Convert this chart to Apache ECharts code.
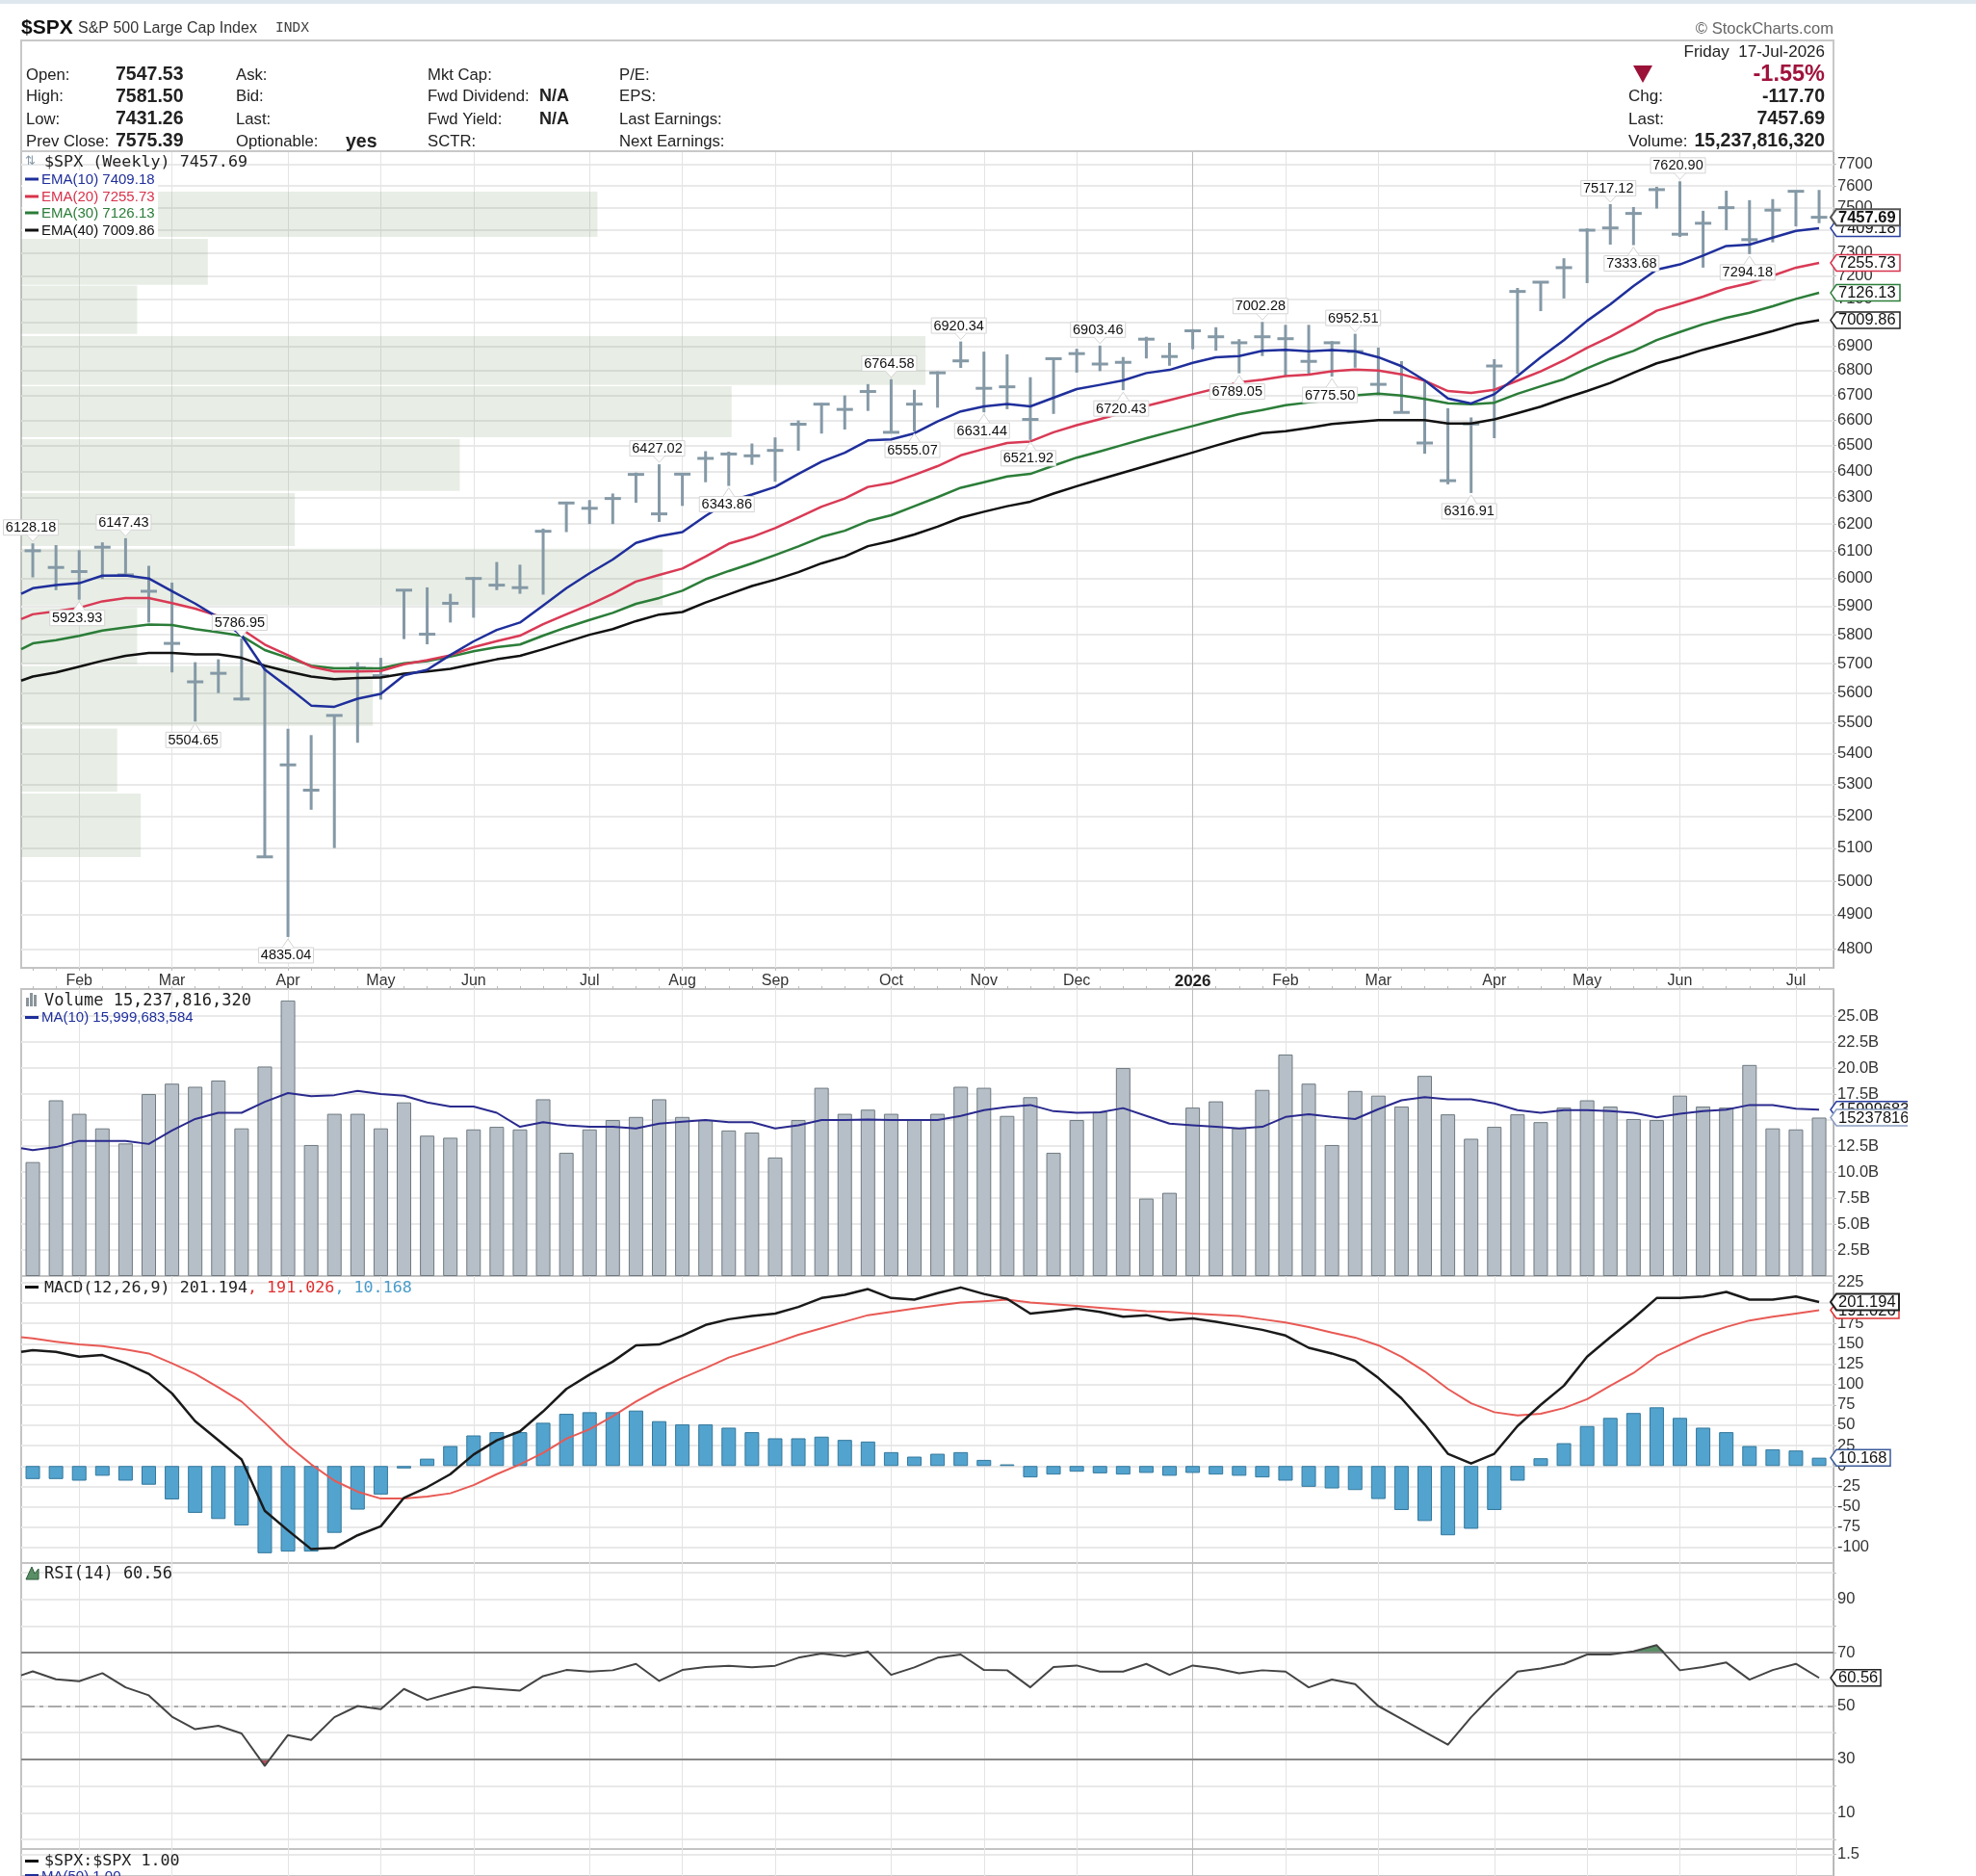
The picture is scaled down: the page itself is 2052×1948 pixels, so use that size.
<!DOCTYPE html>
<html><head><meta charset="utf-8"><style>html,body{margin:0;padding:0;background:#fff}#c{width:2052px;height:1948px}</style>
<script src="https://cdn.jsdelivr.net/npm/echarts@6/dist/echarts.min.js"></script></head><body><div id="c"></div>
<script>
const monthIdx=[2,6,11,15,19,24,28,32,37,41,45,50,54,58,63,67,71,76];
const monthNames=['Feb','Mar','Apr','May','Jun','Jul','Aug','Sep','Oct','Nov','Dec','2026','Feb','Mar','Apr','May','Jun','Jul'];
const priceTicks=[7700,7600,7500,7400,7300,7200,7100,7000,6900,6800,6700,6600,6500,6400,6300,6200,6100,6000,5900,5800,5700,5600,5500,5400,5300,5200,5100,5000,4900,4800];
const highs=[6128.18,6122,6103,6132,6147.43,6046,5985,5705,5715,5786.95,5691,5481,5460,5525,5705,5720,5960,5968,5945,6005,6060,6050,6183,6284,6290,6315,6395,6427.02,6390,6478,6476,6508,6532,6599,6668,6699,6745,6764.58,6722,6797,6920.34,6878,6867,6773,6850,6890,6903.46,6856,6940,6915,6972,6980,6930,7002.28,6990,6990,6922,6952.51,6895,6839,6756,6648,6611,6847,7147,7172,7276,7408,7517.12,7504,7596,7620.90,7487,7578,7535,7540,7579,7581.50];
const lows=[6004,5958,5923.93,5998,6013,5843,5670,5504.65,5600,5575,5074,4835.04,5220,5101,5435,5578,5785,5767,5843,5860,5958,5945,5942,6170,6200,6200,6280,6208,6268,6358,6343.86,6425,6360,6480,6547,6563,6637,6550,6555.07,6650,6811,6631.44,6644,6521.92,6625,6792,6798,6720.43,6850,6820,6888,6882,6789.05,6860,6778,6782,6775.50,6812,6700,6631,6468,6350,6316.91,6529,6787,7048,7102,7168,7336,7333.68,7497,7370,7235,7400,7294.18,7346,7417,7431.26];
const closes=[6101,6040,6025,6114,6013,5954,5770,5638,5667,5580,5074,5363,5282,5525,5686,5659,5958,5802,5911,6000,5976,5967,6173,6279,6259,6296,6388,6238,6389,6450,6467,6460,6481,6584,6664,6643,6715,6552,6664,6791,6840,6728,6734,6603,6849,6870,6827,6834,6930,6858,6965,6940,6915,6940,6932,6838,6915,6879,6744,6631,6510,6364,6585,6819,7132,7172,7235,7400,7410,7475,7583,7382,7431,7501,7358,7490,7575.39,7457.69];
const ema10Start=5945,ema20Start=5855,ema30Start=5750,ema40Start=5642;
const ema10=[5965,5976,5983,6010,6011,6000,5954,5910,5860,5798,5680,5620,5558,5554,5581,5597,5660,5679,5730,5777,5817,5843,5903,5965,6019,6069,6130,6155,6170,6230,6286,6311,6340,6390,6437,6472,6520,6524,6548,6595,6635,6655,6665,6655,6690,6725,6742,6760,6790,6803,6832,6855,6860,6882,6886,6880,6885,6880,6855,6818,6760,6687,6667,6704,6778,6855,6926,7007,7077,7155,7226,7249,7288,7330,7336,7367,7397,7409.18];
const ema20=[5872,5883,5895,5918,5930,5930,5912,5892,5866,5820,5766,5729,5690,5673,5673,5675,5698,5712,5729,5757,5778,5797,5837,5872,5906,5945,5989,6013,6036,6080,6127,6152,6185,6224,6265,6296,6340,6355,6386,6420,6462,6487,6510,6516,6552,6580,6604,6630,6657,6680,6704,6727,6752,6763,6778,6784,6797,6804,6800,6785,6759,6717,6709,6722,6759,6797,6842,6894,6940,6993,7050,7079,7110,7145,7168,7200,7235,7255.73];
const ema30=[5770,5781,5796,5815,5826,5836,5834,5820,5809,5796,5747,5720,5693,5684,5684,5684,5701,5709,5724,5743,5757,5766,5797,5826,5852,5877,5909,5930,5956,5997,6027,6055,6085,6117,6152,6175,6211,6233,6267,6301,6337,6358,6380,6390,6422,6453,6477,6503,6529,6553,6577,6601,6624,6641,6660,6671,6680,6700,6706,6699,6685,6668,6664,6670,6706,6736,6765,6810,6849,6881,6926,6960,6993,7020,7041,7069,7100,7126.13];
const ema40=[5656,5670,5690,5710,5727,5737,5737,5732,5732,5720,5693,5673,5656,5647,5651,5653,5666,5673,5682,5699,5715,5727,5750,5775,5800,5820,5848,5871,5880,5914,5943,5973,5996,6023,6055,6080,6118,6137,6161,6190,6224,6246,6267,6284,6315,6343,6369,6395,6421,6447,6473,6500,6526,6549,6556,6570,6585,6593,6600,6600,6600,6587,6587,6603,6628,6654,6687,6717,6750,6791,6830,6856,6886,6912,6938,6964,6993,7009.86];
const vbpLow=[7370,7161,6952,6741,6533,6325,6118,5903,5699,5490,5277,5073];
const vbpHigh=[7574,7362,7157,6943,6737,6525,6317,6109,5895,5692,5482,5271];
const vbpShare=[31.8,10.3,6.4,49.9,39.2,24.2,15.1,35.4,6.4,19.4,5.3,6.6];
const peakIdx=[0,4,9,27,37,40,46,53,57,68,71];
const troughIdx=[2,7,11,30,38,41,43,47,52,56,62,69,74];
const volume=[10.96,16.9,15.6,14.2,12.75,17.5,18.5,18.2,18.8,14.2,20.15,26.5,12.6,15.6,15.6,14.2,16.7,13.5,13.3,14.1,14.35,14.1,17.0,11.85,14.1,15.0,15.3,17.0,15.3,15.0,14.0,13.8,11.4,15.0,18.1,15.6,16.0,15.6,15.1,15.6,18.2,18.1,15.4,17.2,11.85,15.0,15.8,20.0,7.45,8.0,16.2,16.8,14.2,17.9,21.3,18.5,12.6,17.8,17.35,16.3,19.25,15.55,13.2,14.35,15.55,14.8,16.2,16.9,16.3,15.1,15.0,17.35,16.3,16.2,20.3,14.2,14.1,15.238];
const volMaStart=12.3;
const volMa=[12.1,12.4,13.0,13.0,13.0,12.7,14.0,15.1,15.7,15.7,16.75,17.6,17.3,17.4,17.8,17.5,17.35,16.7,16.3,16.3,15.7,14.35,14.8,14.5,14.35,14.35,14.2,14.65,14.85,15.0,14.8,14.8,14.2,14.5,15.0,15.0,15.05,15.0,15.0,15.0,15.4,15.95,16.25,16.45,15.85,15.7,15.75,16.15,15.4,14.65,14.5,14.35,14.2,14.35,15.3,15.55,15.3,15.1,16.05,16.9,17.2,17.0,17.0,16.6,15.95,15.7,15.95,15.95,15.85,15.7,15.25,15.6,15.85,16.0,16.45,16.45,16.1,16.0];
const volTicks=[2.5,5,7.5,10,12.5,15,17.5,20,22.5,25];
const macdStart=140,signalStart=158;
const macdLine=[142,140,134,136,126,113,89,55,31.5,8,-55,-79,-102,-100.5,-85,-74,-39,-26,-10,14,31.5,42.5,67,94.5,112,128,148,149,160,173,180,184,187,195,206,210,217,206,204,212,219,211,205,187,190,193,189,183,185,179,181,177,172,167,160,145,138,129,108,83,51,15,3,15,49,75,98.5,134,158,181,206,206,208,213.5,204,204,208,201.194];
const signalLine=[156.5,152.5,149,147,143,138,126,113,96.5,79,53,25.5,2,-18,-31.5,-40,-40,-37.5,-33.5,-23.5,-10,2,16,33.5,45,61,79,94.5,108,120,133,142,151,161,169,177,185,189,193,197,200.5,202,204,200.5,198.5,196.5,194,192,190,189,187,185.5,184,180,176,170.5,163.5,157.5,148,134,116,94.5,77,66,62,64,71,82,98.5,114,135,148.5,161,170.5,178.5,183,187,191.026];
const macdHist=[-16,-16,-18,-12,-18,-23,-41,-57.5,-65,-73,-107,-105,-105,-82,-53.5,-35,-3,9,24.5,37.5,41.5,41.5,53,64,66,66,68,55,51,51,47,41.5,34,34,36,32,30,17,11.5,15,17,7.5,2,-14,-10.5,-7,-9,-10.5,-8.5,-12,-8.5,-10.5,-12,-14,-18,-25.5,-27.5,-29.5,-40.5,-54,-67.5,-85,-77,-54,-18,9.5,28,49,59,65,72,59,47,41.5,24.5,20.5,19,10.168];
const macdTicks=[225,200,175,150,125,100,75,50,25,0,-25,-50,-75,-100];
const rsiStart=61.5;
const rsi=[63,60,59.3,62.3,57,54,46,41.3,42.6,39.7,27.6,39.1,37.3,45.8,50,48.8,56.4,52.3,54.8,57.1,56.4,55.8,61.2,63.5,62.9,63.4,65.8,59.4,63.5,64.6,65.1,64.5,65.1,68.1,69.7,68.7,70.4,61.7,64.5,68.1,69.3,63.5,63.4,57,64.6,65.2,62.9,62.9,65.8,61.7,65.2,64.1,62.3,63.4,62.9,57,59.9,58.2,50,45.2,40.3,35.5,45.8,54.8,62.9,64.1,65.8,69.3,69.3,70.5,72.8,63.4,64.6,66.3,59.9,63.5,65.8,60.56];
const rsiTicks=[100,90,80,70,60,50,40,30,20,10,0];
const rsiLabels=[90,70,50,30,10];
const rsiOverX=[68.6,69,70,70.4];
const rsiOverY=[70,70.5,72.8,70];
const rsiUnderX=[9.8,10,10.2];
const rsiUnderY=[30,27.6,30];
const ratioTicks=[1.5];
const priceTags=[[7409.18,'7409.18','#2a3fa0'],[7255.73,'7255.73','#d8324b'],[7126.13,'7126.13','#2b7d38'],[7009.86,'7009.86','#222'],[7457.69,'7457.69','#555']];
const volTags=[[15.9997,'15999683584','#2a3fa0'],[15.238,'15237816320','#8a9dc0']];
const macdTags=[[191.026,'191.026','#e03030'],[201.194,'201.194','#222'],[10.168,'10.168','#3a5a9a']];
const rsiTags=[[60.56,'60.56','#222']];
const infoLabels=[['Open:','High:','Low:','Prev Close:'],['Ask:','Bid:','Last:','Optionable:'],['Mkt Cap:','Fwd Dividend:','Fwd Yield:','SCTR:'],['P/E:','EPS:','Last Earnings:','Next Earnings:']];
const infoValues=['7547.53','7581.50','7431.26','7575.39'];

const SANS='"Liberation Sans",Arial,sans-serif', MONO='"DejaVu Sans Mono",monospace';
const L=22,W=1882,XMIN=-0.5,XMAX=77.62;
const chart=echarts.init(document.getElementById('c'),null,{renderer:'canvas'});
const weekly=highs.map((_,i)=>i);
const grids=[[157,848],[1027,298],[1325,298],[1623,297],[1920,60]].map(g=>({left:L,width:W,top:g[0],height:g[1],show:true,borderColor:'#c4c4c4',borderWidth:2,backgroundColor:'#fff',containLabel:false}));
const vColors=monthIdx.map((_,k)=>monthNames[k]==='2026'?'#bcbcbc':'#e4e4e4');
const monthAxis=(gi,labels)=>({type:'value',gridIndex:gi,min:XMIN,max:XMAX,position:'bottom',
  axisLine:{show:false},axisTick:{show:false,customValues:monthIdx},
  axisLabel:{show:labels,customValues:monthIdx,margin:6,fontFamily:SANS,fontSize:16,color:'#333',hideOverlap:false,showMinLabel:true,showMaxLabel:true,
    formatter:v=>{const n=monthNames[monthIdx.indexOf(v)]||'';return n==='2026'?'{b|2026}':n},rich:{b:{fontFamily:SANS,fontSize:17,fontWeight:'bold',color:'#222'}}},
  splitLine:{show:true,showMinLine:true,showMaxLine:true,lineStyle:{color:vColors,width:1}}});
const weekAxis=(gi,pos)=>({type:'value',gridIndex:gi,min:XMIN,max:XMAX,position:pos,axisLine:{show:false},
  axisTick:{show:true,customValues:weekly,length:3,lineStyle:{color:'#bbb'}},axisLabel:{show:false},splitLine:{show:false}});
const xAxes=[monthAxis(0,true),monthAxis(1,false),monthAxis(2,false),monthAxis(3,false),monthAxis(4,false),
  weekAxis(0,'bottom'),weekAxis(1,'top'),
  {type:'value',gridIndex:0,min:0,max:100,show:false}];
const hLine={show:true,lineStyle:{color:'#e9e9e9',width:2}};
const yBase={position:'right',axisLine:{show:true,onZero:false,lineStyle:{color:'#aaa',type:'dotted',width:1}},
  axisTick:{show:true,length:3,lineStyle:{color:'#bbb'}},splitLine:hLine};
const lab=(extra)=>Object.assign({margin:4,fontFamily:SANS,fontSize:16.5,color:'#333',showMinLabel:true,showMaxLabel:true,verticalAlign:'middle',verticalAlignMinLabel:'middle',verticalAlignMaxLabel:'middle'},extra);
const yAxes=[
 Object.assign({},yBase,{type:'log',logBase:10,gridIndex:0,min:4746,max:7760.5,axisTick:{show:true,length:3,customValues:priceTicks,lineStyle:{color:'#bbb'}},axisLabel:lab({customValues:priceTicks,formatter:v=>String(Math.round(v))}),minorTick:{show:false},minorSplitLine:{show:false}}),
 Object.assign({},yBase,{type:'value',gridIndex:1,min:0,max:27.6,axisTick:{show:true,length:3,customValues:volTicks,lineStyle:{color:'#bbb'}},axisLabel:lab({customValues:volTicks,formatter:v=>v.toFixed(1)+'B'})}),
 Object.assign({},yBase,{type:'value',gridIndex:2,min:-119,max:233,axisTick:{show:true,length:3,customValues:macdTicks,lineStyle:{color:'#bbb'}},axisLabel:lab({customValues:macdTicks})}),
 Object.assign({},yBase,{type:'value',gridIndex:3,min:-3.6,max:103.6,axisTick:{show:true,length:3,customValues:rsiTicks,lineStyle:{color:'#bbb'}},axisLabel:lab({customValues:rsiLabels})}),
 Object.assign({},yBase,{type:'value',gridIndex:4,min:1.3,max:1.55,axisTick:{show:true,length:3,customValues:ratioTicks,lineStyle:{color:'#bbb'}},axisLabel:lab({customValues:ratioTicks,formatter:v=>v.toFixed(1)})})
];
const withStart=(arr,s)=>[[-0.5,s]].concat(arr.map((v,i)=>[i,v]));
const lineS=(xi,yi,arr,s,color,w,z)=>({type:'line',xAxisIndex:xi,yAxisIndex:yi,data:withStart(arr,s),showSymbol:false,symbol:'none',silent:true,animation:false,z:z||5,clip:false,lineStyle:{color,width:w,join:'round'}});
const tagSeries=(xi,yi,tags,w)=>({type:'custom',xAxisIndex:xi,yAxisIndex:yi,z:20,silent:true,animation:false,clip:false,
  data:tags.map(t=>[77,t[0]]),encode:{x:0,y:1},
  renderItem:(p,api)=>{const t=tags[p.dataIndex];const c=api.coord([77,api.value(1)]);const x0=1901,y=c[1],h=17,wd=t[3]||w;
    const bold=(tags===priceTags&&t[1]==='7457.69')||(tags===macdTags&&t[1]==='201.194');
    return {type:'group',children:[
      {type:'polygon',shape:{points:[[x0,y],[x0+6,y-h/2],[x0+wd,y-h/2],[x0+wd,y+h/2],[x0+6,y+h/2]]},style:{fill:'#fff',stroke:t[2],lineWidth:bold?2:1.5}},
      {type:'text',style:{x:x0+8,y:y+0.5,text:t[1],font:(bold&&tags===priceTags?'bold ':'')+'16.5px '+SANS,fill:'#111',align:'left',verticalAlign:'middle'}}]};}});
macdTags[2][3]=62;
const series=[
 {type:'custom',xAxisIndex:7,yAxisIndex:0,z:1,silent:true,animation:false,data:vbpShare.map((v,i)=>[v,vbpLow[i],vbpHigh[i]]),encode:{x:0,y:[1,2]},
  renderItem:(p,api)=>{const a=api.coord([0,api.value(2)]),b=api.coord([api.value(0),api.value(1)]);
    return {type:'rect',shape:{x:a[0],y:a[1],width:b[0]-a[0],height:b[1]-a[1]},style:{fill:'rgba(110,150,100,0.16)'}};}},
 {type:'custom',xAxisIndex:0,yAxisIndex:0,z:3,silent:true,animation:false,clip:false,data:closes.map((c,i)=>[i,c,lows[i],highs[i]]),encode:{x:0,y:[1,2,3]},
  renderItem:(p,api)=>{const i=api.value(0),cl=api.coord([i,api.value(1)]),lo=api.coord([i,api.value(2)]),hi=api.coord([i,api.value(3)]);const st={stroke:'#8599a6',lineWidth:3};
    return {type:'group',children:[{type:'line',shape:{x1:lo[0],y1:lo[1],x2:hi[0],y2:hi[1]},style:st},{type:'line',shape:{x1:cl[0]-8.5,y1:cl[1],x2:cl[0]+8.5,y2:cl[1]},style:st}]};}},
 lineS(0,0,ema40,ema40Start,'#111',2.5,6),lineS(0,0,ema30,ema30Start,'#2b7d38',2.5,7),lineS(0,0,ema20,ema20Start,'#d93a55',2.5,8),lineS(0,0,ema10,ema10Start,'#1f2f9b',2.5,9),
 ...[[peakIdx,highs,-1],[troughIdx,lows,1]].map(([idx,src,dir])=>({type:'custom',xAxisIndex:0,yAxisIndex:0,z:12,silent:true,animation:false,clip:false,
  data:idx.map(i=>[i,src[i]]),encode:{x:0,y:1},
  renderItem:(p,api)=>{const c=api.coord([api.value(0),api.value(1)]),x=c[0]-2,y=c[1];const cy=y+dir*(dir<0?16.5:19),bw=57,bh=16;const edge=cy-dir*bh/2;
    return {type:'group',children:[
      {type:'rect',shape:{x:x-bw/2,y:cy-bh/2,width:bw,height:bh},style:{fill:'#fff',stroke:'#d4d4d4',lineWidth:1}},
      {type:'polyline',shape:{points:[[c[0]-6,edge],[c[0],y+dir*2],[c[0]+6,edge]]},style:{fill:'#fff',stroke:'#d4d4d4',lineWidth:1}},
      {type:'text',style:{x:x,y:cy+0.5,text:api.value(1).toFixed(2),font:'14.5px '+SANS,fill:'#111',align:'center',verticalAlign:'middle'}}]};}})),
 tagSeries(0,0,priceTags,72),
 {type:'bar',xAxisIndex:1,yAxisIndex:1,data:volume.map((v,i)=>[i,v]),barWidth:15,z:3,silent:true,animation:false,itemStyle:{color:'#b6bfc7',borderColor:'#6f7a80',borderWidth:1}},
 lineS(1,1,volMa,volMaStart,'#2a2a8e',2,5),
 tagSeries(1,1,volTags,90),
 {type:'bar',xAxisIndex:2,yAxisIndex:2,data:macdHist.map((v,i)=>[i,v]),barWidth:15,z:3,silent:true,animation:false,itemStyle:{color:'#53a3cf',borderColor:'#33789c',borderWidth:1}},
 lineS(2,2,signalLine,signalStart,'#e85a55',2,5),lineS(2,2,macdLine,macdStart,'#1a1a1a',2.5,6),
 tagSeries(2,2,macdTags,71),
 {type:'line',xAxisIndex:3,yAxisIndex:3,data:rsiOverX.map((x,i)=>[x,rsiOverY[i]]),symbol:'none',silent:true,animation:false,z:4,lineStyle:{width:0},areaStyle:{origin:70,color:'#5a8f66',opacity:1}},
 {type:'line',xAxisIndex:3,yAxisIndex:3,data:rsiUnderX.map((x,i)=>[x,rsiUnderY[i]]),symbol:'none',silent:true,animation:false,z:4,lineStyle:{width:0},areaStyle:{origin:30,color:'#b8505a',opacity:1}},
 Object.assign(lineS(3,3,rsi,rsiStart,'#444',2,6),{markLine:{silent:true,symbol:'none',animation:false,label:{show:false},data:[
   {yAxis:70,lineStyle:{color:'#888',width:2,type:'solid'}},{yAxis:30,lineStyle:{color:'#888',width:2,type:'solid'}},{yAxis:50,lineStyle:{color:'#aaa',width:2,type:[14,5,4,5]}}]}}),
 tagSeries(3,3,rsiTags,52)
];
const T=(x,y,text,font,fill,align,z)=>({type:'text',z:z||30,style:{x,y,text,font,fill:fill||'#222',align:align||'left',verticalAlign:'middle'}});
const R=(x,y,w,h,fill,z)=>({type:'rect',z:z||30,shape:{x,y,width:w,height:h},style:{fill}});
const g=[];
g.push(R(0,0,2052,4,'#dfe7ee',1));
g.push(R(1981,1100,71,100,'#fff',40));
g.push({type:'rect',z:1,shape:{x:L,y:42,width:W,height:115},style:{fill:'#fff',stroke:'#c8c8c8',lineWidth:2}});
g.push(T(22,29.5,'$SPX','bold 21px '+SANS,'#111'));
g.push(T(81,29.5,'S&P 500 Large Cap Index','16px '+SANS,'#333'));
g.push(T(286,29.5,'INDX','14.5px '+MONO,'#444'));
g.push(T(1904,30,'© StockCharts.com','16.6px '+SANS,'#666','right'));
const rows=[78,100.5,124,147],cols=[27,245,444,643];
infoLabels.forEach((c,ci)=>c.forEach((t,ri)=>g.push(T(cols[ci],rows[ri],t,'16.7px '+SANS,'#222'))));
infoValues.forEach((t,ri)=>g.push(T(120,rows[ri],t,'bold 19.5px '+SANS,'#222')));
g.push(T(359,rows[3]+1,'yes','bold 19.5px '+SANS,'#222'));
g.push(T(560,rows[1],'N/A','bold 18px '+SANS,'#222'));
g.push(T(560,rows[2],'N/A','bold 18px '+SANS,'#222'));
g.push(T(1895,54,'Friday  17-Jul-2026','17px '+SANS,'#222','right'));
g.push({type:'polygon',z:30,shape:{points:[[1696,68],[1716,68],[1706,86]]},style:{fill:'#9b1238'}});
g.push(T(1895,77.5,'-1.55%','bold 23.5px '+SANS,'#a0123c','right'));
g.push(T(1691,100.5,'Chg:','17px '+SANS)); g.push(T(1895,100.5,'-117.70','bold 19.5px '+SANS,'#222','right'));
g.push(T(1691,124,'Last:','17px '+SANS)); g.push(T(1895,124,'7457.69','bold 19.5px '+SANS,'#222','right'));
g.push(T(1691,147,'Volume:','17px '+SANS)); g.push(T(1895,147,'15,237,816,320','bold 19.5px '+SANS,'#222','right'));
g.push(R(23,177,141,70,'#fff',25));
g.push(T(26,168,'⇅','13px "DejaVu Sans"','#8599a6'));
g.push(T(46,169,'$SPX (Weekly) 7457.69','16.7px '+MONO,'#222'));
[['EMA(10) 7409.18','#1f2f9b',186],['EMA(20) 7255.73','#d8324b',204],['EMA(30) 7126.13','#2b7d38',221],['EMA(40) 7009.86','#111',239]].forEach(r=>{
  g.push(R(26,r[2]-1.5,14,3,r[1]));g.push(T(43,r[2]+0.5,r[0],'15px '+SANS,r[1]));});
g.push(R(27,1036,3,9,'#8a949b'));g.push(R(31,1031,3,14,'#8a949b'));g.push(R(35,1033,3,12,'#8a949b'));
g.push(T(46,1039.5,'Volume 15,237,816,320','17px '+MONO,'#222'));
g.push(R(26,1055,14,3,'#1f2f9b'));g.push(T(43,1057,'MA(10) 15,999,683,584','15px '+SANS,'#1f2f9b'));
g.push(R(26,1335,14,3,'#111'));
g.push({type:'text',z:30,style:{x:46,y:1337.5,text:'{a|MACD(12,26,9) 201.194}{b|, 191.026}{c|, 10.168}',font:'16.7px '+MONO,verticalAlign:'middle',rich:{a:{font:'16.7px '+MONO,fill:'#222'},b:{font:'16.7px '+MONO,fill:'#e03030'},c:{font:'16.7px '+MONO,fill:'#4a9cc9'}}}});
g.push({type:'polygon',z:30,shape:{points:[[27,1640],[33,1627],[36,1634],[40,1629],[40,1640]]},style:{fill:'#5a8f66',stroke:'#2b5a38'}});
g.push(T(46,1635,'RSI(14) 60.56','17px '+MONO,'#222'));
g.push(R(26,1931,14,3,'#111'));
g.push(T(46,1933,'$SPX:$SPX 1.00','16.7px '+MONO,'#222'));
g.push(R(26,1946,14,3,'#1f2f9b'));g.push(T(43,1949,'MA(50) 1.00','15px '+SANS,'#1f2f9b'));
chart.setOption({animation:false,backgroundColor:'#fff',grid:grids,xAxis:xAxes,yAxis:yAxes,series,graphic:{elements:g}});
</script></body></html>
